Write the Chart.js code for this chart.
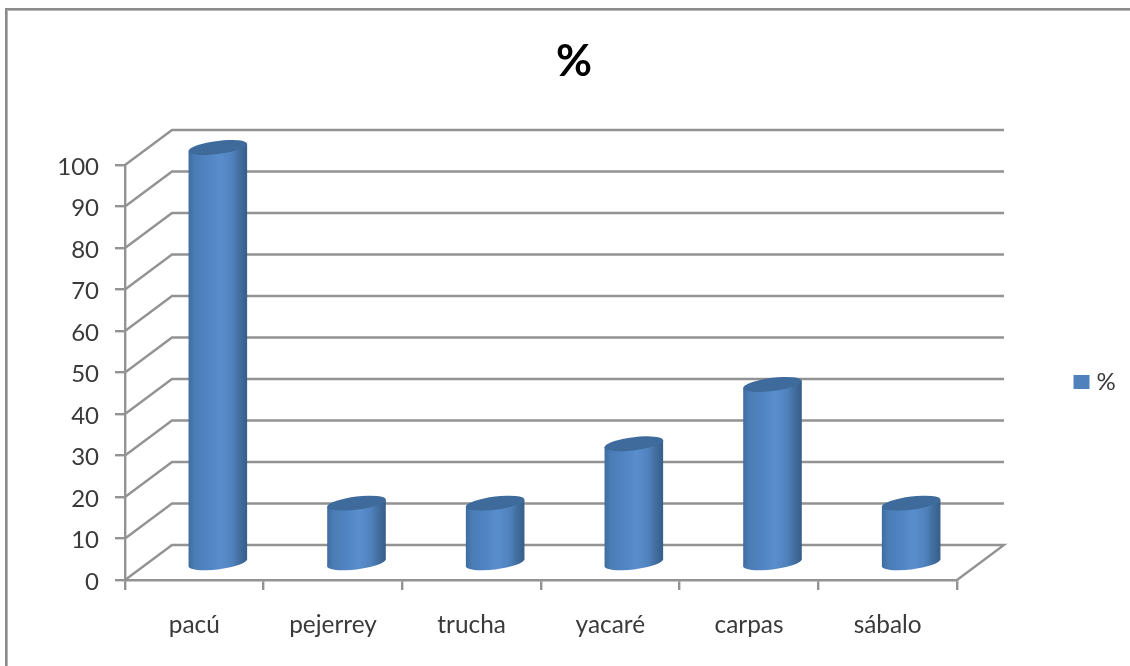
<!DOCTYPE html>
<html lang="es">
  <head>
    <meta charset="UTF-8" />
    <title>%</title>
    <script src="https://cdn.jsdelivr.net/npm/chart.js@4/dist/chart.umd.min.js"></script>
    <style>
      html,
      body {
        margin: 0;
        padding: 0;
        height: 100%;
        overflow: hidden;
        background: #fff;
      }
      .wrap {
        position: relative;
        width: 1130px;
        height: 666px;
        overflow: hidden;
      }
      /* only the top and left edges of the chart frame are in the picture */
      .frame {
        position: absolute;
        left: 5px;
        top: 8px;
        width: 1200px;
        height: 700px;
        border: 2px solid #8b8b8b;
        box-shadow: inset 1px 1px 0 #b4b4b4;
      }
      canvas {
        position: absolute;
        left: 0;
        top: 0;
        filter: blur(0.5px);
      }
    </style>
  </head>
  <body>
    <div class="wrap">
      <div class="frame"></div>
      <canvas id="chart" width="1130" height="666"></canvas>
    </div>
    <script>
      const categories = ["pacú", "pejerrey", "trucha", "yacaré", "carpas", "sábalo"];
      const seriesName = "%";
      const seriesValues = [100, 14.3, 14.3, 28.6, 42.9, 14.3];

      const gridColor = "#939393";
      const textColor = "#3a3a3a";
      const fontFamily = "Lato, 'Open Sans', sans-serif";

      // how far the back wall sits from the front plane, in pixels
      const depthX = 47;
      const depthY = 35;

      // Side walls and back gridlines, one polyline per y tick.
      const walls = {
        id: "walls",
        beforeDatasetsDraw(chart) {
          const { ctx, scales } = chart;
          const left = scales.x.left;
          const right = scales.x.right;
          ctx.save();
          ctx.strokeStyle = gridColor;
          ctx.lineWidth = 2.4;
          for (const tick of scales.y.ticks) {
            const y = scales.y.getPixelForValue(tick.value);
            ctx.beginPath();
            ctx.moveTo(left, y);
            ctx.lineTo(left + depthX, y - depthY);
            ctx.lineTo(right + depthX, y - depthY);
            if (tick.value === 0) ctx.lineTo(right, y);
            ctx.stroke();
          }
          ctx.restore();
        },
      };

      function drawCylinder(ctx, bar) {
        const a = bar.width / 2;
        const b = a * 0.226; // flattened ellipse
        const skew = -0.12; // ellipses lean up to the right
        const cx = bar.x + depthX / 2;
        const top = bar.y - depthY / 2;
        const bottom = bar.base - depthY / 2 + 1.5;

        ctx.save();
        ctx.transform(1, skew, 0, 1, cx, 0);

        const side = ctx.createLinearGradient(-a, 0, a, 0);
        side.addColorStop(0, "#3d6c9f");
        side.addColorStop(0.1, "#4a7cb4");
        side.addColorStop(0.3, "#5083c1");
        side.addColorStop(0.55, "#5a8dcc");
        side.addColorStop(0.75, "#4f82bd");
        side.addColorStop(0.9, "#3f6a9a");
        side.addColorStop(1, "#375e8a");

        ctx.beginPath();
        ctx.moveTo(-a, top);
        ctx.lineTo(-a, bottom);
        ctx.ellipse(0, bottom, a, b, 0, Math.PI, 0, true);
        ctx.lineTo(a, top);
        ctx.closePath();
        ctx.fillStyle = side;
        ctx.fill();

        ctx.beginPath();
        ctx.ellipse(0, top, a, b, 0, 0, Math.PI * 2);
        ctx.fillStyle = "#3f6b9c";
        ctx.fill();
        ctx.restore();
      }

      // Bars keep their place from the library, only the look changes.
      const cylinders = {
        id: "cylinders",
        beforeDatasetDraw(chart, args) {
          for (const bar of args.meta.data) drawCylinder(chart.ctx, bar);
          return false;
        },
      };

      // Title, legend and y labels go where the reference has them.
      const placeBlocks = {
        id: "placeBlocks",
        afterLayout(chart) {
          const { titleBlock, legend, scales } = chart;
          titleBlock.left = 18;
          titleBlock.right = 1130;
          legend.left = 1068.5;
          legend.right = 1130;
          legend.top = 360;
          legend.bottom = 420;
          for (const item of scales.y.getLabelItems()) {
            item.options.translation[1] += 2;
          }
        },
      };

      new Chart(document.getElementById("chart"), {
        type: "bar",
        data: {
          labels: categories,
          datasets: [
            {
              label: seriesName,
              data: seriesValues,
              backgroundColor: "#4f81bd",
              // the thick border only pads the legend swatch, it sits the text closer
              borderColor: "#4f81bd",
              borderWidth: 10,
              categoryPercentage: 1,
              barPercentage: 0.4225,
            },
          ],
        },
        plugins: [walls, cylinders, placeBlocks],
        options: {
          responsive: false,
          animation: false,
          layout: { padding: { left: 0, top: 0, right: 173, bottom: 0 } },
          scales: {
            x: {
              afterFit(axis) {
                axis.height = 86;
              },
              border: { color: gridColor, width: 2.4 },
              grid: {
                drawOnChartArea: false,
                color: gridColor,
                lineWidth: 2.4,
                tickLength: 10,
              },
              ticks: {
                color: textColor,
                font: { family: fontFamily, size: 24.4 },
                padding: 21,
                maxRotation: 0,
                autoSkip: false,
              },
            },
            y: {
              min: 0,
              max: 100,
              afterFit(axis) {
                axis.width = 125;
              },
              border: { color: gridColor, width: 2.4 },
              grid: {
                drawOnChartArea: false,
                color: gridColor,
                lineWidth: 2.4,
                tickLength: 10,
              },
              ticks: {
                stepSize: 10,
                color: textColor,
                font: { family: fontFamily, size: 24 },
                padding: 16,
              },
            },
          },
          plugins: {
            title: {
              display: true,
              text: seriesName,
              color: "#000",
              font: { family: fontFamily, size: 44, weight: "bold", lineHeight: 1 },
              padding: { top: 40, bottom: 81 },
            },
            legend: {
              position: "chartArea",
              align: "start",
              labels: {
                boxWidth: 6,
                boxHeight: 4,
                padding: 10,
                color: textColor,
                font: { family: fontFamily, size: 24 },
              },
            },
            tooltip: { enabled: false },
          },
        },
      });
    </script>
  </body>
</html>
